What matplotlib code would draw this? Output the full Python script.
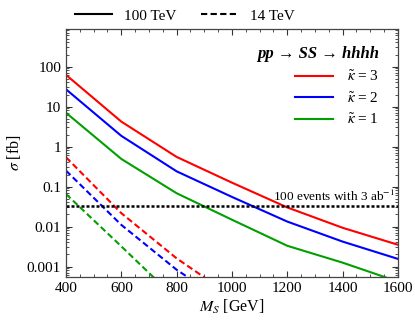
import matplotlib
matplotlib.use('Agg')
from matplotlib import pyplot as plt
from matplotlib.ticker import FixedLocator, FuncFormatter, LogLocator, NullFormatter, MultipleLocator

plt.rcParams['font.family'] = ['Liberation Serif', 'DejaVu Serif']
plt.rcParams['mathtext.fontset'] = 'stix'

# Masses (GeV)
masses = [400, 600, 800, 1000, 1200, 1400, 1600]

# 100 TeV cross sections (fb)
xs100_k3 = [62, 4.2, 0.55, 0.125, 0.030, 0.0093, 0.0035]
xs100_k2 = [27, 1.85, 0.24, 0.055, 0.0133, 0.0042, 0.00155]
xs100_k1 = [7.0, 0.49, 0.068, 0.0148, 0.0033, 0.00125, 0.00042]

# 14 TeV cross sections (fb)
masses14 = [400, 600, 800, 1000]
xs14_k3 = [0.54, 0.0216, 0.0016, 0.00018]
xs14_k2 = [0.25, 0.011, 0.00083, 0.0001]
xs14_k1 = [0.065, 0.0032, 0.00015, 0.00002]

events_line = 100 / 3000.0  # 100 events with 3 ab^-1

colors = {'3': '#ff0000', '2': '#0000ff', '1': '#00a000'}

fig = plt.figure(figsize=(4.15, 3.22), dpi=100)
ax = fig.add_axes([0.159, 0.14, 0.8, 0.77])

dash = (0, (3, 1.6))
h3, = ax.plot(masses, xs100_k3, color=colors['3'], lw=1.5, label=r'$\tilde{\kappa}$ = 3')
h2, = ax.plot(masses, xs100_k2, color=colors['2'], lw=1.5, label=r'$\tilde{\kappa}$ = 2')
h1, = ax.plot(masses, xs100_k1, color=colors['1'], lw=1.5, label=r'$\tilde{\kappa}$ = 1')
ax.plot(masses14, xs14_k3, color=colors['3'], lw=1.5, ls=dash)
ax.plot(masses14, xs14_k2, color=colors['2'], lw=1.5, ls=dash)
ax.plot(masses14, xs14_k1, color=colors['1'], lw=1.5, ls=dash)

ax.axhline(events_line, color='black', lw=1.8, ls=(0, (1.2, 0.8)))
ax.text(1590, events_line * 1.12, r'100 events with 3 ab$^{-1}$', ha='right', va='bottom', fontsize=9.5)

ax.set_yscale('log')
ax.set_xlim(400, 1600)
ax.set_ylim(0.00055, 870)

ax.xaxis.set_major_locator(MultipleLocator(200))
ax.xaxis.set_minor_locator(MultipleLocator(50))
ax.yaxis.set_major_locator(FixedLocator([0.001, 0.01, 0.1, 1, 10, 100]))
ax.yaxis.set_major_formatter(FuncFormatter(lambda v, p: '%g' % v))
ax.yaxis.set_minor_locator(LogLocator(base=10, subs=[2, 3, 4, 5, 6, 7, 8, 9], numticks=20))
ax.yaxis.set_minor_formatter(NullFormatter())

ax.tick_params(which='both', direction='in', top=True, right=True, labelsize=11, colors='#333333', labelcolor='black')
ax.tick_params(which='major', length=4, width=0.8)
ax.tick_params(which='minor', length=2, width=0.6)
for s in ax.spines.values():
    s.set_color('#444444')
    s.set_linewidth(0.9)

ax.set_xlabel(r'$M_S$ [GeV]', fontsize=11.5, labelpad=2)
ax.set_ylabel(r'$\sigma$ [fb]', fontsize=11.5, labelpad=3)

leg = ax.legend(handles=[h3, h2, h1], loc='upper right', frameon=False, fontsize=11,
                title='pp → SS → hhhh', alignment='right', handlelength=2.5,
                handletextpad=0.9, labelspacing=0.45, borderaxespad=0.5,
                bbox_to_anchor=(0.985, 0.985))
leg.get_title().set_fontsize(12)
leg.get_title().set_fontweight('bold')
leg.get_title().set_fontstyle('italic')

s_line, = ax.plot([], [], color='black', lw=1.5)
d_line, = ax.plot([], [], color='black', lw=1.5, ls=dash)
fig.legend([s_line, d_line], ['100 TeV', '14 TeV'], loc='upper center', ncol=2,
           bbox_to_anchor=(0.445, 1.015), frameon=False, fontsize=11,
           handlelength=2.4, columnspacing=1.6, handletextpad=0.8)

fig.savefig('out.png', dpi=100)
